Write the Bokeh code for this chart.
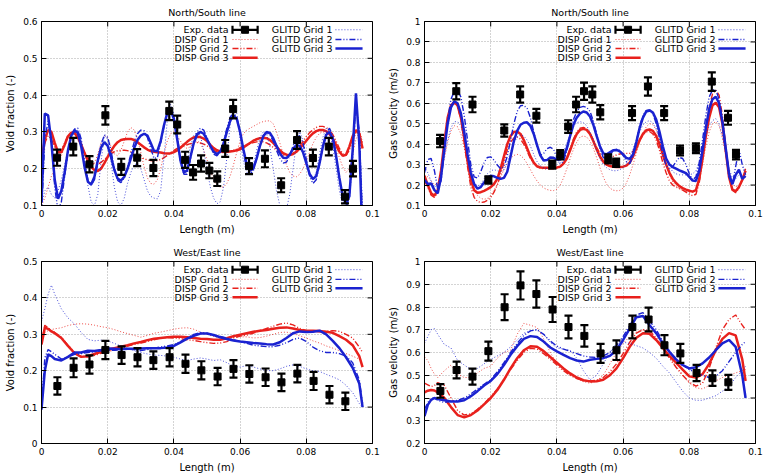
from bokeh.plotting import figure
from bokeh.layouts import column, row
from bokeh.models import Range1d, FixedTicker
from bokeh.core.properties import value
from bokeh.embed import file_html
from bokeh.resources import INLINE

FONT = "DejaVu Sans"
RED = "#e8201c"
BLUE = "#1a22d0"

# sample positions of the simulated profiles (m)
x_top = [round(0.001 * k, 3) for k in range(98)]
x_bottom = [0.0, 0.001, 0.002, 0.003] + [round(0.004 + 0.002 * k, 3) for k in range(47)] + [0.097]

x_ticks = [0.0, 0.02, 0.04, 0.06, 0.08, 0.1]
x_tick_labels = ["0", "0.02", "0.04", "0.06", "0.08", "0.1"]

# ---------------- North/South line: void fraction ----------------
ns_exp_x = [0.0047, 0.0096, 0.0145, 0.0193, 0.0241, 0.0289, 0.0338, 0.0386, 0.041, 0.0434,
            0.0458, 0.0482, 0.0507, 0.0531, 0.0555, 0.0579, 0.0627, 0.0675, 0.0724, 0.0772,
            0.082, 0.0868, 0.0917, 0.0941]
ns_vf_exp = [0.23, 0.26, 0.212, 0.345, 0.205, 0.23, 0.202, 0.357, 0.32, 0.224,
             0.19, 0.214, 0.195, 0.173, 0.255, 0.362, 0.207, 0.227, 0.155, 0.278,
             0.229, 0.26, 0.124, 0.2]
ns_vf_err = [0.022, 0.024, 0.022, 0.025, 0.022, 0.023, 0.022, 0.025, 0.024, 0.022,
             0.02, 0.022, 0.021, 0.02, 0.023, 0.025, 0.022, 0.023, 0.019, 0.024,
             0.023, 0.024, 0.018, 0.021]
ns_vf_disp1 = [0.1, 0.12, 0.15, 0.18, 0.2, 0.215, 0.235, 0.26, 0.285, 0.3,
               0.305, 0.295, 0.27, 0.24, 0.215, 0.205, 0.215, 0.24, 0.27, 0.29,
               0.285, 0.26, 0.24, 0.235, 0.25, 0.275, 0.3, 0.312, 0.305, 0.28,
               0.245, 0.205, 0.175, 0.16, 0.158, 0.17, 0.2, 0.24, 0.275, 0.295,
               0.3, 0.29, 0.275, 0.26, 0.255, 0.26, 0.27, 0.275, 0.27, 0.25,
               0.225, 0.195, 0.17, 0.155, 0.15, 0.15, 0.16, 0.18, 0.21, 0.245,
               0.275, 0.295, 0.305, 0.31, 0.315, 0.32, 0.325, 0.328, 0.33, 0.33,
               0.322, 0.3, 0.27, 0.24, 0.21, 0.19, 0.18, 0.178, 0.185, 0.2,
               0.22, 0.245, 0.268, 0.285, 0.296, 0.3, 0.298, 0.29, 0.275, 0.255,
               0.23, 0.205, 0.19, 0.2, 0.24, 0.28, 0.3, 0.28]
ns_vf_disp2 = [0.23, 0.27, 0.29, 0.28, 0.258, 0.245, 0.25, 0.27, 0.29, 0.298,
               0.295, 0.28, 0.262, 0.245, 0.23, 0.218, 0.212, 0.212, 0.217, 0.225,
               0.234, 0.241, 0.246, 0.249, 0.25, 0.25, 0.249, 0.246, 0.242, 0.237,
               0.232, 0.227, 0.224, 0.222, 0.221, 0.222, 0.225, 0.23, 0.236, 0.243,
               0.25, 0.255, 0.259, 0.262, 0.265, 0.268, 0.27, 0.271, 0.27, 0.267,
               0.262, 0.256, 0.25, 0.246, 0.244, 0.244, 0.245, 0.247, 0.25, 0.253,
               0.257, 0.261, 0.265, 0.268, 0.271, 0.273, 0.274, 0.273, 0.27, 0.265,
               0.258, 0.25, 0.243, 0.238, 0.236, 0.237, 0.242, 0.25, 0.261, 0.274,
               0.287, 0.298, 0.306, 0.312, 0.315, 0.315, 0.312, 0.305, 0.293, 0.275,
               0.255, 0.24, 0.236, 0.25, 0.275, 0.298, 0.3, 0.27]
ns_vf_disp3 = [0.22, 0.28, 0.305, 0.3, 0.27, 0.245, 0.245, 0.265, 0.288, 0.298,
               0.298, 0.285, 0.265, 0.243, 0.222, 0.205, 0.196, 0.194, 0.2, 0.215,
               0.232, 0.248, 0.262, 0.272, 0.278, 0.28, 0.281, 0.281, 0.278, 0.272,
               0.265, 0.258, 0.252, 0.248, 0.246, 0.245, 0.244, 0.242, 0.241, 0.242,
               0.245, 0.25, 0.257, 0.265, 0.273, 0.28, 0.285, 0.287, 0.286, 0.282,
               0.275, 0.265, 0.256, 0.25, 0.247, 0.246, 0.246, 0.247, 0.248, 0.25,
               0.253, 0.258, 0.264, 0.27, 0.276, 0.28, 0.283, 0.284, 0.283, 0.278,
               0.27, 0.26, 0.25, 0.242, 0.238, 0.237, 0.24, 0.246, 0.255, 0.265,
               0.276, 0.287, 0.296, 0.302, 0.305, 0.305, 0.302, 0.295, 0.282, 0.264,
               0.246, 0.235, 0.238, 0.26, 0.288, 0.305, 0.295, 0.255]
ns_vf_glitd1 = [0.1, 0.14, 0.15, 0.13, 0.12, 0.14, 0.17, 0.21, 0.25, 0.28,
                0.298, 0.305, 0.28, 0.22, 0.155, 0.11, 0.1, 0.13, 0.22, 0.29,
                0.28, 0.22, 0.15, 0.11, 0.1, 0.12, 0.16, 0.19, 0.21, 0.215,
                0.2, 0.17, 0.14, 0.125, 0.12, 0.118, 0.14, 0.23, 0.33, 0.375,
                0.35, 0.28, 0.21, 0.19, 0.22, 0.26, 0.29, 0.3, 0.29, 0.25,
                0.2, 0.15, 0.12, 0.105, 0.11, 0.15, 0.23, 0.32, 0.37, 0.35,
                0.28, 0.22, 0.19, 0.19, 0.21, 0.25, 0.285, 0.3, 0.295, 0.26,
                0.2, 0.14, 0.1, 0.085, 0.09, 0.13, 0.2, 0.27, 0.3, 0.28,
                0.23, 0.185, 0.17, 0.19, 0.24, 0.285, 0.31, 0.3, 0.26, 0.2,
                0.14, 0.1, 0.09, 0.13, 0.25, 0.37, 0.3, 0.1]
ns_vf_glitd2 = [0.07, 0.28, 0.33, 0.28, 0.15, 0.085, 0.11, 0.18, 0.245, 0.29,
                0.308, 0.31, 0.28, 0.22, 0.17, 0.155, 0.17, 0.215, 0.265, 0.292,
                0.285, 0.25, 0.2, 0.168, 0.162, 0.175, 0.205, 0.24, 0.272, 0.295,
                0.305, 0.303, 0.285, 0.255, 0.228, 0.23, 0.27, 0.315, 0.35, 0.358,
                0.34, 0.29, 0.225, 0.185, 0.185, 0.225, 0.27, 0.3, 0.31, 0.305,
                0.285, 0.26, 0.24, 0.235, 0.245, 0.272, 0.31, 0.34, 0.352, 0.34,
                0.3, 0.245, 0.2, 0.185, 0.195, 0.228, 0.265, 0.29, 0.298, 0.292,
                0.275, 0.25, 0.228, 0.215, 0.218, 0.235, 0.262, 0.283, 0.29, 0.27,
                0.225, 0.18, 0.16, 0.17, 0.21, 0.262, 0.298, 0.31, 0.29, 0.235,
                0.17, 0.115, 0.095, 0.12, 0.23, 0.38, 0.3, 0.05]
ns_vf_glitd3 = [0.11, 0.35, 0.345, 0.27, 0.17, 0.118, 0.14, 0.19, 0.25, 0.29,
                0.305, 0.297, 0.26, 0.205, 0.165, 0.157, 0.178, 0.222, 0.258, 0.272,
                0.262, 0.232, 0.197, 0.173, 0.168, 0.178, 0.2, 0.228, 0.256, 0.278,
                0.29, 0.295, 0.29, 0.27, 0.248, 0.248, 0.275, 0.318, 0.352, 0.36,
                0.335, 0.28, 0.222, 0.19, 0.195, 0.232, 0.27, 0.293, 0.3, 0.295,
                0.28, 0.262, 0.246, 0.24, 0.246, 0.268, 0.3, 0.33, 0.345, 0.335,
                0.3, 0.252, 0.212, 0.195, 0.2, 0.228, 0.262, 0.288, 0.3, 0.297,
                0.283, 0.262, 0.242, 0.23, 0.229, 0.238, 0.254, 0.264, 0.262, 0.245,
                0.215, 0.186, 0.172, 0.18, 0.215, 0.26, 0.292, 0.3, 0.282, 0.235,
                0.175, 0.125, 0.105, 0.125, 0.25, 0.405, 0.27, 0.0]

# ---------------- North/South line: gas velocity ----------------
ns_gv_exp = [0.415, 0.659, 0.594, 0.225, 0.467, 0.643, 0.539, 0.3, 0.348, 0.486,
             0.594, 0.659, 0.643, 0.556, 0.328, 0.309, 0.552, 0.682, 0.552, 0.369,
             0.38, 0.706, 0.529, 0.349]
ns_gv_err = [0.03, 0.04, 0.038, 0.018, 0.03, 0.04, 0.034, 0.02, 0.023, 0.031,
             0.038, 0.042, 0.04, 0.035, 0.022, 0.02, 0.034, 0.045, 0.034, 0.024,
             0.024, 0.045, 0.034, 0.023]
ns_gv_disp1 = [0.25, 0.24, 0.22, 0.2, 0.21, 0.26, 0.33, 0.41, 0.465, 0.49,
               0.485, 0.45, 0.38, 0.3, 0.23, 0.18, 0.15, 0.135, 0.13, 0.135,
               0.15, 0.175, 0.205, 0.24, 0.275, 0.305, 0.33, 0.345, 0.35, 0.345,
               0.33, 0.305, 0.275, 0.245, 0.22, 0.2, 0.186, 0.178, 0.174, 0.173,
               0.18, 0.2, 0.235, 0.28, 0.33, 0.375, 0.41, 0.435, 0.44, 0.435,
               0.415, 0.38, 0.335, 0.285, 0.24, 0.205, 0.185, 0.175, 0.172, 0.174,
               0.185, 0.21, 0.25, 0.3, 0.355, 0.41, 0.455, 0.485, 0.5, 0.495,
               0.47, 0.42, 0.36, 0.3, 0.25, 0.215, 0.195, 0.183, 0.175, 0.17,
               0.165, 0.165, 0.175, 0.22, 0.3, 0.39, 0.46, 0.5, 0.51, 0.49,
               0.43, 0.35, 0.27, 0.21, 0.19, 0.2, 0.22, 0.24]
ns_gv_disp2 = [0.22, 0.19, 0.15, 0.14, 0.165, 0.26, 0.4, 0.52, 0.585, 0.6,
               0.585, 0.52, 0.41, 0.29, 0.19, 0.14, 0.12, 0.115, 0.117, 0.125,
               0.14, 0.165, 0.2, 0.25, 0.31, 0.37, 0.41, 0.43, 0.435, 0.425,
               0.4, 0.365, 0.33, 0.305, 0.29, 0.283, 0.28, 0.28, 0.28, 0.28,
               0.282, 0.288, 0.305, 0.335, 0.38, 0.425, 0.46, 0.478, 0.482, 0.475,
               0.455, 0.42, 0.385, 0.355, 0.34, 0.335, 0.335, 0.34, 0.347, 0.352,
               0.355, 0.355, 0.355, 0.365, 0.39, 0.42, 0.445, 0.46, 0.462, 0.45,
               0.42, 0.37, 0.31, 0.26, 0.22, 0.2, 0.19, 0.183, 0.175, 0.165,
               0.155, 0.148, 0.155, 0.21, 0.33, 0.47, 0.58, 0.645, 0.665, 0.64,
               0.54, 0.39, 0.25, 0.175, 0.162, 0.185, 0.23, 0.28]
ns_gv_disp3 = [0.245, 0.2, 0.16, 0.148, 0.175, 0.27, 0.41, 0.53, 0.59, 0.605,
               0.59, 0.53, 0.43, 0.32, 0.225, 0.175, 0.162, 0.165, 0.172, 0.18,
               0.19, 0.205, 0.23, 0.28, 0.34, 0.4, 0.44, 0.46, 0.462, 0.45,
               0.42, 0.38, 0.34, 0.31, 0.292, 0.286, 0.285, 0.285, 0.285, 0.285,
               0.286, 0.29, 0.305, 0.33, 0.37, 0.415, 0.45, 0.47, 0.475, 0.47,
               0.45, 0.415, 0.375, 0.34, 0.315, 0.3, 0.293, 0.29, 0.288, 0.288,
               0.29, 0.295, 0.31, 0.34, 0.38, 0.42, 0.45, 0.468, 0.472, 0.465,
               0.44, 0.4, 0.35, 0.3, 0.26, 0.23, 0.21, 0.195, 0.185, 0.178,
               0.172, 0.168, 0.175, 0.23, 0.33, 0.44, 0.53, 0.59, 0.603, 0.58,
               0.5, 0.37, 0.24, 0.178, 0.17, 0.19, 0.225, 0.27]
ns_gv_glitd1 = [0.29, 0.26, 0.22, 0.19, 0.2, 0.26, 0.34, 0.42, 0.48, 0.51,
                0.51, 0.49, 0.43, 0.35, 0.27, 0.215, 0.195, 0.205, 0.23, 0.255,
                0.27, 0.275, 0.27, 0.265, 0.275, 0.31, 0.36, 0.405, 0.435, 0.445,
                0.44, 0.42, 0.39, 0.35, 0.315, 0.295, 0.285, 0.28, 0.28, 0.285,
                0.3, 0.325, 0.36, 0.405, 0.45, 0.485, 0.505, 0.51, 0.505, 0.49,
                0.46, 0.42, 0.37, 0.33, 0.3, 0.285, 0.275, 0.27, 0.27, 0.275,
                0.285, 0.305, 0.335, 0.375, 0.42, 0.46, 0.495, 0.51, 0.515, 0.505,
                0.475, 0.43, 0.38, 0.33, 0.29, 0.265, 0.255, 0.25, 0.25, 0.25,
                0.25, 0.255, 0.27, 0.31, 0.37, 0.44, 0.49, 0.515, 0.525, 0.5,
                0.44, 0.36, 0.28, 0.235, 0.23, 0.25, 0.245, 0.24]
ns_gv_glitd2 = [0.26, 0.325, 0.33, 0.27, 0.18, 0.22, 0.36, 0.52, 0.62, 0.66,
                0.665, 0.63, 0.54, 0.42, 0.3, 0.24, 0.235, 0.265, 0.31, 0.335,
                0.338, 0.322, 0.298, 0.28, 0.29, 0.34, 0.42, 0.5, 0.56, 0.588,
                0.59, 0.575, 0.53, 0.46, 0.39, 0.345, 0.355, 0.378, 0.385, 0.375,
                0.335, 0.305, 0.315, 0.37, 0.45, 0.52, 0.56, 0.58, 0.585, 0.58,
                0.56, 0.515, 0.45, 0.38, 0.335, 0.325, 0.345, 0.368, 0.375, 0.37,
                0.345, 0.315, 0.305, 0.34, 0.41, 0.49, 0.54, 0.565, 0.567, 0.55,
                0.5, 0.43, 0.35, 0.295, 0.28, 0.29, 0.315, 0.335, 0.33, 0.3,
                0.255, 0.225, 0.24, 0.31, 0.42, 0.54, 0.63, 0.665, 0.665, 0.62,
                0.51, 0.37, 0.24, 0.2, 0.29, 0.375, 0.3, 0.25]
ns_gv_glitd3 = [0.225, 0.205, 0.208, 0.175, 0.16, 0.24, 0.38, 0.5, 0.58, 0.61,
                0.6, 0.55, 0.46, 0.35, 0.26, 0.205, 0.182, 0.19, 0.212, 0.235,
                0.245, 0.243, 0.235, 0.23, 0.235, 0.265, 0.34, 0.415, 0.465, 0.495,
                0.505, 0.507, 0.49, 0.45, 0.395, 0.345, 0.32, 0.322, 0.335, 0.333,
                0.325, 0.325, 0.34, 0.38, 0.44, 0.495, 0.53, 0.55, 0.56, 0.555,
                0.535, 0.495, 0.44, 0.39, 0.355, 0.35, 0.36, 0.37, 0.372, 0.365,
                0.35, 0.332, 0.328, 0.35, 0.41, 0.48, 0.53, 0.56, 0.565, 0.555,
                0.52, 0.46, 0.39, 0.33, 0.3, 0.288, 0.28, 0.272, 0.265, 0.258,
                0.24, 0.222, 0.22, 0.27, 0.37, 0.48, 0.57, 0.62, 0.632, 0.6,
                0.51, 0.38, 0.255, 0.205, 0.25, 0.275, 0.23, 0.245]

# ---------------- West/East line: void fraction ----------------
we_exp_x = [0.0048, 0.0097, 0.0145, 0.0193, 0.0242, 0.029, 0.0338, 0.0387, 0.0435, 0.0483,
            0.0532, 0.058, 0.0628, 0.0677, 0.0725, 0.0773, 0.0822, 0.087, 0.0918]
we_vf_exp = [0.158, 0.208, 0.217, 0.257, 0.243, 0.237, 0.229, 0.237, 0.219, 0.201,
             0.184, 0.205, 0.191, 0.182, 0.168, 0.192, 0.172, 0.134, 0.116]
we_vf_err = [0.024, 0.026, 0.025, 0.025, 0.024, 0.025, 0.024, 0.025, 0.025, 0.025,
             0.024, 0.024, 0.024, 0.024, 0.024, 0.024, 0.025, 0.024, 0.024]
we_vf_disp1 = [0.29, 0.305, 0.31, 0.313,
               0.315, 0.318, 0.324, 0.328, 0.329, 0.328, 0.325, 0.321, 0.318, 0.313,
               0.307, 0.302, 0.297, 0.292, 0.297, 0.303, 0.306, 0.31, 0.314, 0.317,
               0.318, 0.314, 0.306, 0.3, 0.294, 0.29, 0.29, 0.292, 0.293, 0.293,
               0.29, 0.291, 0.295, 0.3, 0.305, 0.306, 0.302, 0.296, 0.29, 0.282,
               0.276, 0.268, 0.262, 0.255, 0.247, 0.24, 0.232,
               0.228]
we_vf_disp2 = [0.28, 0.325, 0.318, 0.31,
               0.305, 0.292, 0.27, 0.25, 0.24, 0.238, 0.242, 0.248, 0.253, 0.257,
               0.262, 0.268, 0.272, 0.276, 0.28, 0.285, 0.29, 0.291, 0.29, 0.288,
               0.285, 0.283, 0.28, 0.277, 0.275, 0.276, 0.28, 0.29, 0.295, 0.298,
               0.303, 0.31, 0.316, 0.322, 0.328, 0.331, 0.326, 0.316, 0.31, 0.308,
               0.307, 0.308, 0.31, 0.308, 0.3, 0.29, 0.265,
               0.25]
we_vf_disp3 = [0.272, 0.318, 0.315, 0.308,
               0.303, 0.29, 0.268, 0.248, 0.238, 0.24, 0.246, 0.252, 0.258, 0.262,
               0.266, 0.27, 0.275, 0.279, 0.284, 0.288, 0.29, 0.292, 0.293, 0.293,
               0.292, 0.29, 0.288, 0.287, 0.285, 0.285, 0.289, 0.295, 0.299, 0.303,
               0.307, 0.31, 0.312, 0.315, 0.318, 0.319, 0.316, 0.312, 0.31, 0.31,
               0.309, 0.307, 0.304, 0.295, 0.285, 0.27, 0.24,
               0.21]
we_vf_glitd1 = [0.335, 0.37, 0.41, 0.435,
                0.41, 0.37, 0.345, 0.328, 0.305, 0.286, 0.282, 0.284, 0.282, 0.275,
                0.268, 0.262, 0.255, 0.25, 0.246, 0.243, 0.242, 0.24, 0.237, 0.232,
                0.228, 0.232, 0.235, 0.232, 0.228, 0.23, 0.222, 0.212, 0.21, 0.214,
                0.21, 0.205, 0.2, 0.2, 0.205, 0.212, 0.216, 0.212, 0.205, 0.2,
                0.198, 0.19, 0.183, 0.175, 0.16, 0.14, 0.11,
                0.097]
we_vf_glitd2 = [0.1, 0.235, 0.258, 0.252,
                0.245, 0.232, 0.238, 0.245, 0.247, 0.25, 0.252, 0.255, 0.256, 0.256,
                0.258, 0.26, 0.257, 0.255, 0.258, 0.262, 0.265, 0.268, 0.272, 0.28,
                0.29, 0.3, 0.305, 0.303, 0.298, 0.294, 0.29, 0.285, 0.28, 0.275,
                0.27, 0.268, 0.266, 0.266, 0.27, 0.277, 0.286, 0.29, 0.28, 0.265,
                0.255, 0.25, 0.25, 0.247, 0.24, 0.222, 0.175,
                0.11]
we_vf_glitd3 = [0.093, 0.2, 0.245, 0.24,
                0.232, 0.228, 0.238, 0.25, 0.25, 0.255, 0.254, 0.257, 0.261, 0.26,
                0.259, 0.26, 0.26, 0.261, 0.262, 0.262, 0.262, 0.264, 0.268, 0.278,
                0.288, 0.296, 0.302, 0.302, 0.298, 0.292, 0.287, 0.283, 0.28, 0.278,
                0.276, 0.275, 0.273, 0.272, 0.278, 0.29, 0.303, 0.308, 0.306, 0.307,
                0.31, 0.3, 0.282, 0.262, 0.237, 0.208, 0.165,
                0.1]

# ---------------- West/East line: gas velocity ----------------
we_gv_exp = [0.431, 0.523, 0.494, 0.606, 0.799, 0.895, 0.857, 0.789, 0.712, 0.673,
             0.596, 0.61, 0.712, 0.745, 0.632, 0.596, 0.51, 0.487, 0.469]
we_gv_err = [0.03, 0.037, 0.035, 0.042, 0.057, 0.062, 0.06, 0.055, 0.05, 0.047,
             0.042, 0.043, 0.05, 0.052, 0.044, 0.042, 0.036, 0.034, 0.033]
we_gv_disp1 = [0.58, 0.565, 0.53, 0.505,
               0.49, 0.52, 0.545, 0.505, 0.49, 0.49, 0.51, 0.53, 0.54, 0.575,
               0.6, 0.61, 0.68, 0.728, 0.72, 0.71, 0.66, 0.6, 0.55, 0.52,
               0.5, 0.488, 0.472, 0.465, 0.475, 0.5, 0.55, 0.6, 0.64, 0.67,
               0.69, 0.7, 0.69, 0.66, 0.62, 0.58, 0.54, 0.5, 0.465, 0.445,
               0.44, 0.455, 0.475, 0.49, 0.5, 0.51, 0.52,
               0.525]
we_gv_disp2 = [0.465, 0.458, 0.45, 0.455,
               0.468, 0.455, 0.4, 0.345, 0.325, 0.33, 0.35, 0.375, 0.405, 0.44,
               0.48, 0.525, 0.565, 0.6, 0.618, 0.615, 0.595, 0.57, 0.545, 0.52,
               0.5, 0.485, 0.477, 0.475, 0.478, 0.49, 0.515, 0.55, 0.595, 0.645,
               0.685, 0.7, 0.695, 0.665, 0.62, 0.575, 0.535, 0.5, 0.47, 0.452,
               0.465, 0.53, 0.62, 0.7, 0.745, 0.765, 0.72,
               0.7]
we_gv_disp3 = [0.425, 0.432, 0.435, 0.433,
               0.425, 0.4, 0.36, 0.325, 0.315, 0.325, 0.345, 0.372, 0.4, 0.435,
               0.48, 0.53, 0.575, 0.61, 0.627, 0.625, 0.606, 0.58, 0.555, 0.53,
               0.508, 0.49, 0.478, 0.473, 0.474, 0.48, 0.5, 0.53, 0.575, 0.625,
               0.665, 0.685, 0.682, 0.655, 0.62, 0.585, 0.555, 0.525, 0.495, 0.49,
               0.505, 0.55, 0.61, 0.66, 0.685, 0.675, 0.57,
               0.475]
we_gv_glitd1 = [0.64, 0.67, 0.7, 0.705,
                0.68, 0.635, 0.62, 0.565, 0.545, 0.525, 0.53, 0.55, 0.57, 0.585,
                0.6, 0.625, 0.655, 0.685, 0.695, 0.7, 0.68, 0.645, 0.62, 0.615,
                0.61, 0.575, 0.52, 0.48, 0.5, 0.55, 0.6, 0.64, 0.645, 0.64,
                0.63, 0.62, 0.6, 0.575, 0.54, 0.51, 0.47, 0.43, 0.4, 0.39,
                0.39, 0.4, 0.41, 0.43, 0.45, 0.49, 0.52,
                0.54]
we_gv_glitd2 = [0.35, 0.38, 0.398, 0.4,
                0.39, 0.38, 0.385, 0.39, 0.4, 0.418, 0.44, 0.46, 0.48, 0.515,
                0.555, 0.6, 0.64, 0.675, 0.695, 0.7, 0.68, 0.65, 0.628, 0.615,
                0.605, 0.595, 0.585, 0.58, 0.578, 0.585, 0.6, 0.63, 0.67, 0.72,
                0.765, 0.775, 0.74, 0.7, 0.65, 0.605, 0.565, 0.545, 0.525, 0.51,
                0.5, 0.49, 0.495, 0.52, 0.56, 0.6, 0.635,
                0.648]
we_gv_glitd3 = [0.32, 0.37, 0.392, 0.4,
                0.395, 0.39, 0.385, 0.385, 0.39, 0.408, 0.43, 0.455, 0.475, 0.505,
                0.545, 0.59, 0.628, 0.66, 0.672, 0.668, 0.648, 0.622, 0.605, 0.59,
                0.575, 0.565, 0.56, 0.568, 0.572, 0.575, 0.585, 0.61, 0.655, 0.705,
                0.755, 0.76, 0.72, 0.685, 0.64, 0.603, 0.57, 0.545, 0.53, 0.535,
                0.552, 0.578, 0.61, 0.64, 0.655, 0.625, 0.5,
                0.4]

SERIES = ["DISP Grid 1", "DISP Grid 2", "DISP Grid 3",
          "GLITD Grid 1", "GLITD Grid 2", "GLITD Grid 3"]
STYLE = {
    "DISP Grid 1": dict(line_color=RED, line_width=1, line_dash="1 2", line_alpha=0.8),
    "DISP Grid 2": dict(line_color=RED, line_width=1.4, line_dash="6 2 1 2 1 2"),
    "DISP Grid 3": dict(line_color=RED, line_width=2.5, line_dash="solid"),
    "GLITD Grid 1": dict(line_color=BLUE, line_width=1, line_dash="1 2", line_alpha=0.8),
    "GLITD Grid 2": dict(line_color=BLUE, line_width=1.4, line_dash="6 2 1 2 1 2"),
    "GLITD Grid 3": dict(line_color=BLUE, line_width=2.5, line_dash="solid"),
}


def style_axis(ax, ticks, labels):
    ax.ticker = FixedTicker(ticks=ticks)
    ax.major_tick_in = 5
    ax.major_tick_out = 0
    ax.minor_tick_in = 0
    ax.minor_tick_out = 0
    ax.axis_line_color = "black"
    ax.major_tick_line_color = "black"
    ax.major_label_overrides = dict(zip(ticks, labels))
    ax.major_label_text_font = FONT
    ax.major_label_text_font_size = "9px"
    ax.major_label_text_color = "black"
    ax.major_label_standoff = 4
    ax.axis_label_text_font = FONT
    ax.axis_label_text_font_size = "10px"
    ax.axis_label_text_font_style = "normal"
    ax.axis_label_text_color = "black"
    ax.axis_label_standoff = 4


def mirror_ticks(p, y_lo, y_hi, y_ticks):
    # inward tick marks on the right and top edges (half of each dash is clipped by the frame)
    p.scatter([0.1] * len(y_ticks), y_ticks, marker="dash", size=10,
              line_color="black", line_width=1)
    p.scatter(x_ticks, [y_hi] * len(x_ticks), marker="dash", angle=1.5708, size=10,
              line_color="black", line_width=1)


def draw_key(p, y_lo, y_hi):
    # key placed by fractions of the plotting frame
    def fx(f):
        return 0.1 * f

    def fy(f):
        return y_hi - f * (y_hi - y_lo)

    rows = [0.045, 0.098, 0.147, 0.197]
    col1 = ["Exp. data", "DISP Grid 1", "DISP Grid 2", "DISP Grid 3"]
    col2 = ["GLITD Grid 1", "GLITD Grid 2", "GLITD Grid 3"]
    p.text(x=[fx(0.565)] * 4, y=[fy(r) for r in rows], text=col1,
           text_align="right", text_baseline="middle", text_color="black",
           text_font=value(FONT), text_font_size=value("9.5px"))
    p.text(x=[fx(0.879)] * 3, y=[fy(r) for r in rows[:3]], text=col2,
           text_align="right", text_baseline="middle", text_color="black",
           text_font=value(FONT), text_font_size=value("9.5px"))
    # experimental sample: bar with caps and square
    ye = fy(rows[0])
    p.line([fx(0.577), fx(0.653)], [ye, ye], line_color="black", line_width=2.2)
    p.scatter([fx(0.577), fx(0.653)], [ye, ye], marker="dash", angle=1.5708,
              size=8, line_color="black", line_width=2.2)
    p.scatter([fx(0.615)], [ye], marker="square", size=7, color="black")
    for name, r in zip(SERIES[:3], rows[1:]):
        p.line([fx(0.577), fx(0.653)], [fy(r), fy(r)], **STYLE[name])
    for name, r in zip(SERIES[3:], rows[:3]):
        p.line([fx(0.888), fx(0.970)], [fy(r), fy(r)], **STYLE[name])


def panel(title, ylabel, y_lo, y_hi, y_ticks, y_labels, xs, curves,
          ex, ey, eerr, height, top, bottom):
    p = figure(width=383, height=height, x_range=Range1d(0, 0.1),
               y_range=Range1d(y_lo, y_hi), output_backend="svg",
               toolbar_location=None, min_border_left=41, min_border_right=11,
               min_border_top=top, min_border_bottom=bottom)
    p.title.text = title
    p.title.align = "center"
    p.title.text_font = FONT
    p.title.text_font_size = "9.5px"
    p.title.text_font_style = "normal"
    p.title.text_color = "black"
    p.title.standoff = 8
    p.outline_line_color = "black"
    p.outline_line_alpha = 1
    p.background_fill_color = "white"
    p.border_fill_color = "white"
    for g in (p.xgrid, p.ygrid):
        g.grid_line_color = "#a8a8a8"
        g.grid_line_dash = "1 2"
        g.grid_line_width = 1
    p.xgrid.ticker = FixedTicker(ticks=x_ticks)
    p.ygrid.ticker = FixedTicker(ticks=y_ticks)
    style_axis(p.xaxis[0], x_ticks, x_tick_labels)
    style_axis(p.yaxis[0], y_ticks, y_labels)
    p.xaxis[0].axis_label = "Length (m)"
    p.yaxis[0].axis_label = ylabel
    mirror_ticks(p, y_lo, y_hi, y_ticks)

    for name, ys in zip(SERIES, curves):
        p.line(xs, ys, **STYLE[name])

    lo = [round(a - b, 4) for a, b in zip(ey, eerr)]
    hi = [round(a + b, 4) for a, b in zip(ey, eerr)]
    p.segment(x0=ex, y0=lo, x1=ex, y1=hi, line_color="black", line_width=2.2)
    p.scatter(ex + ex, lo + hi, marker="dash", size=8, line_color="black", line_width=2.2)
    p.scatter(ex, ey, marker="square", size=7, color="black")

    draw_key(p, y_lo, y_hi)
    return p


p1 = panel("North/South line", "Void fraction (-)", 0.1, 0.6,
           [0.1, 0.2, 0.3, 0.4, 0.5, 0.6], ["0.1", "0.2", "0.3", "0.4", "0.5", "0.6"],
           x_top, [ns_vf_disp1, ns_vf_disp2, ns_vf_disp3, ns_vf_glitd1, ns_vf_glitd2, ns_vf_glitd3],
           ns_exp_x, ns_vf_exp, ns_vf_err, 237, 21, 32)
p2 = panel("North/South line", "Gas velocity (m/s)", 0.1, 1.0,
           [0.1, 0.2, 0.3, 0.4, 0.5, 0.6, 0.7, 0.8, 0.9, 1.0],
           ["0.1", "0.2", "0.3", "0.4", "0.5", "0.6", "0.7", "0.8", "0.9", "1"],
           x_top, [ns_gv_disp1, ns_gv_disp2, ns_gv_disp3, ns_gv_glitd1, ns_gv_glitd2, ns_gv_glitd3],
           ns_exp_x, ns_gv_exp, ns_gv_err, 237, 21, 32)
p3 = panel("West/East line", "Void fraction (-)", 0.0, 0.5,
           [0.0, 0.1, 0.2, 0.3, 0.4, 0.5], ["0", "0.1", "0.2", "0.3", "0.4", "0.5"],
           x_bottom, [we_vf_disp1, we_vf_disp2, we_vf_disp3, we_vf_glitd1, we_vf_glitd2, we_vf_glitd3],
           we_exp_x, we_vf_exp, we_vf_err, 238, 24, 31)
p4 = panel("West/East line", "Gas velocity (m/s)", 0.2, 1.0,
           [0.2, 0.3, 0.4, 0.5, 0.6, 0.7, 0.8, 0.9, 1.0],
           ["0.2", "0.3", "0.4", "0.5", "0.6", "0.7", "0.8", "0.9", "1"],
           x_bottom, [we_gv_disp1, we_gv_disp2, we_gv_disp3, we_gv_glitd1, we_gv_glitd2, we_gv_glitd3],
           we_exp_x, we_gv_exp, we_gv_err, 238, 24, 31)

layout = column(row(p1, p2), row(p3, p4))
open("out.html", "w").write(file_html(layout, INLINE))
